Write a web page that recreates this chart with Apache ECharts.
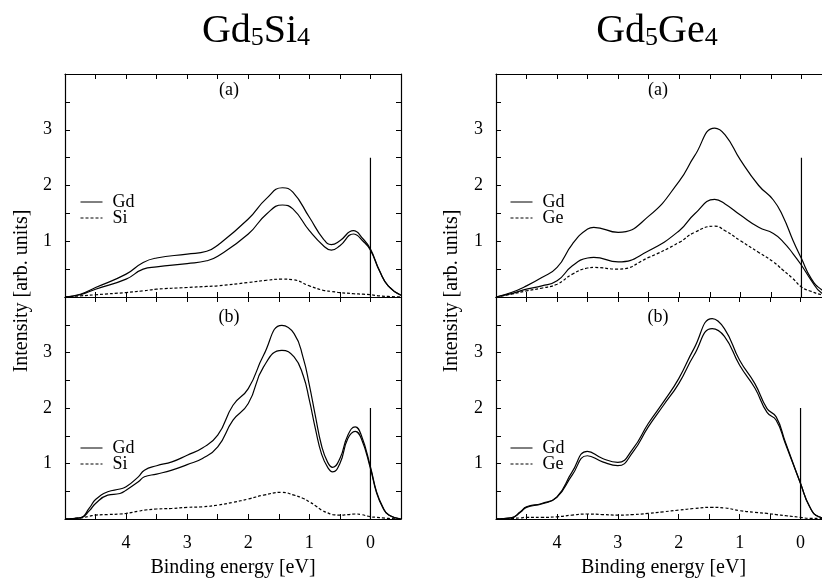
<!DOCTYPE html>
<html lang="en">
<head>
    <meta charset="UTF-8">
    <title>Gd5Si4 / Gd5Ge4</title>
    <script src="https://cdn.jsdelivr.net/npm/echarts@6/dist/echarts.min.js"></script>
    <style>
        html, body { margin: 0; padding: 0; background: #fff; overflow: hidden; }
        /* the right panel runs past the window edge, as in the original figure */
        #chart { width: 834px; height: 579px; }
    </style>
</head>
<body>
    <div id="chart"></div>
    <script>
        // Gd5Si4 (a)
        var siA_x   = [5, 4.75, 4.5, 4.0, 3.72, 3.5, 3.0, 2.68, 2.5, 2.0, 1.7, 1.44, 1.27, 1.0, 0.77, 0.64, 0.5, 0.28, 0.12, 0, -0.15, -0.29, -0.5];
        var siA_gd1 = [0, 0.05, 0.17, 0.41, 0.62, 0.70, 0.77, 0.82, 0.93, 1.40, 1.77, 1.96, 1.88, 1.43, 1.04, 0.94, 1.01, 1.19, 1.04, 0.86, 0.47, 0.20, 0.03];
        var siA_gd2 = [0, 0.04, 0.14, 0.32, 0.50, 0.54, 0.60, 0.65, 0.73, 1.13, 1.49, 1.65, 1.58, 1.19, 0.92, 0.84, 0.92, 1.13, 1.00, 0.84, 0.46, 0.20, 0.03];
        var siA_si  = [0, 0.02, 0.04, 0.08, 0.11, 0.14, 0.17, 0.19, 0.20, 0.26, 0.30, 0.32, 0.31, 0.20, 0.12, 0.10, 0.08, 0.06, 0.05, 0.04, 0.02, 0.01, 0];

        // Gd5Si4 (b)
        var siB_x   = [5, 4.75, 4.6, 4.5, 4.3, 4.1, 4.0, 3.8, 3.7, 3.5, 3.25, 3.0, 2.75, 2.5, 2.25, 2.0, 1.75, 1.45, 1.25, 1.1, 1.0, 0.9, 0.8, 0.7, 0.62, 0.5, 0.37, 0.25, 0.15, 0, -0.1, -0.2, -0.3, -0.5];
        var siB_gd1 = [0, 0.02, 0.20, 0.35, 0.49, 0.54, 0.58, 0.76, 0.88, 0.96, 1.03, 1.15, 1.28, 1.51, 2.05, 2.35, 2.95, 3.49, 3.34, 2.90, 2.41, 1.85, 1.32, 1.02, 0.93, 1.09, 1.51, 1.66, 1.51, 0.94, 0.49, 0.22, 0.07, 0];
        var siB_gd2 = [0, 0.02, 0.15, 0.28, 0.43, 0.46, 0.52, 0.67, 0.76, 0.81, 0.88, 0.98, 1.09, 1.30, 1.78, 2.08, 2.74, 3.04, 2.92, 2.58, 2.14, 1.62, 1.17, 0.93, 0.85, 1.00, 1.45, 1.58, 1.45, 0.91, 0.47, 0.21, 0.07, 0];
        var siB_si  = [0, 0.02, 0.05, 0.07, 0.08, 0.09, 0.10, 0.14, 0.16, 0.18, 0.19, 0.21, 0.22, 0.25, 0.30, 0.36, 0.43, 0.48, 0.43, 0.37, 0.31, 0.24, 0.16, 0.11, 0.08, 0.07, 0.08, 0.09, 0.08, 0.04, 0.03, 0.02, 0.01, 0];

        // Gd5Ge4 (a)
        var geA_x   = [5, 4.75, 4.5, 4.25, 4.0, 3.75, 3.5, 3.4, 3.0, 2.5, 2.0, 1.75, 1.42, 1.25, 1.0, 0.7, 0.46, 0.3, 0.14, 0, -0.16, -0.33, -0.5];
        var geA_gd1 = [0, 0.08, 0.20, 0.35, 0.53, 0.95, 1.22, 1.25, 1.16, 1.45, 2.08, 2.53, 3.03, 2.91, 2.46, 2.00, 1.74, 1.44, 1.02, 0.69, 0.33, 0.13, 0.05];
        var geA_gd2 = [0, 0.06, 0.14, 0.20, 0.29, 0.56, 0.70, 0.71, 0.63, 0.83, 1.19, 1.49, 1.75, 1.67, 1.47, 1.25, 1.14, 0.99, 0.78, 0.57, 0.30, 0.07, 0.02];
        var geA_ge  = [0, 0.05, 0.11, 0.16, 0.23, 0.41, 0.52, 0.53, 0.50, 0.71, 0.98, 1.16, 1.27, 1.19, 1.01, 0.80, 0.63, 0.48, 0.33, 0.18, 0.10, 0.04, 0.02];

        // Gd5Ge4 (b)
        var geB_x   = [5, 4.75, 4.6, 4.5, 4.25, 4.0, 3.75, 3.5, 3.25, 3.0, 2.75, 2.5, 2.25, 2.0, 1.75, 1.45, 1.25, 1.0, 0.75, 0.55, 0.4, 0.25, 0, -0.15, -0.3, -0.5];
        var geB_gd1 = [0, 0.02, 0.13, 0.22, 0.28, 0.40, 0.85, 1.22, 1.09, 1.02, 1.27, 1.72, 2.11, 2.53, 3.07, 3.61, 3.43, 2.86, 2.44, 1.99, 1.84, 1.39, 0.64, 0.22, 0.04, 0];
        var geB_gd2 = [0, 0.02, 0.12, 0.21, 0.27, 0.39, 0.79, 1.14, 1.03, 0.96, 1.21, 1.66, 2.05, 2.44, 2.95, 3.43, 3.29, 2.77, 2.36, 1.92, 1.78, 1.36, 0.64, 0.22, 0.04, 0];
        var geB_ge  = [0, 0.01, 0.02, 0.03, 0.03, 0.04, 0.07, 0.09, 0.08, 0.07, 0.08, 0.10, 0.13, 0.16, 0.19, 0.21, 0.20, 0.15, 0.12, 0.10, 0.08, 0.06, 0.03, 0.01, 0.01, 0];

        // height of the vertical line at E_F, one per panel
        var efHeight = [2.5, 2.0, 2.5, 2.0];
        var panelTags = ['(a)', '(b)', '(a)', '(b)'];
        var xTickLabels = [0, 1, 2, 3, 4];
        var yTickLabels = [1, 2, 3];

        var FONT = '"Liberation Serif", "DejaVu Serif", serif';

        var chart = echarts.init(document.getElementById('chart'));

        // grid boxes: left-top, left-bottom, right-top, right-bottom
        var grids = [
            { left: 65, top: 74, width: 336, height: 223 },
            { left: 65, top: 297, width: 336, height: 222 },
            { left: 496, top: 74, width: 336, height: 223 },
            { left: 496, top: 297, width: 336, height: 222 }
        ];

        var xAxes = [], yAxes = [];
        for (var g = 0; g < 8; g++) {
            var gi = g % 4;
            var mirror = g >= 4;
            var bottomPanel = (gi === 1 || gi === 3) && !mirror;
            xAxes.push({
                type: 'value', gridIndex: gi, inverse: true,
                min: -0.5, max: 5, interval: 0.5,
                position: mirror ? 'top' : 'bottom',
                axisLine: { show: true, onZero: false, lineStyle: { color: '#000', width: 1.2 } },
                axisTick: { show: true, inside: true, length: 5, lineStyle: { color: '#000', width: 1 } },
                splitLine: { show: false },
                axisLabel: {
                    show: bottomPanel, margin: 15, color: '#000', fontFamily: FONT, fontSize: 18,
                    formatter: function (v) { return xTickLabels.indexOf(v) >= 0 ? String(v) : ''; }
                },
                name: bottomPanel ? 'Binding energy [eV]' : '',
                nameLocation: 'middle', nameGap: 39,
                nameTextStyle: { color: '#000', fontFamily: FONT, fontSize: 20 }
            });
            yAxes.push({
                type: 'value', gridIndex: gi, min: 0, max: 4, interval: 0.5,
                position: mirror ? 'right' : 'left',
                axisLine: { show: true, onZero: false, lineStyle: { color: '#000', width: 1.2 } },
                axisTick: { show: true, inside: true, length: 5, lineStyle: { color: '#000', width: 1 } },
                splitLine: { show: false },
                axisLabel: {
                    show: !mirror, margin: 13, color: '#000', fontFamily: FONT, fontSize: 18,
                    formatter: function (v) { return yTickLabels.indexOf(v) >= 0 ? String(v) : ''; }
                }
            });
        }

        function pairs(xs, ys) {
            return xs.map(function (x, i) { return [x, ys[i]]; });
        }

        function curve(name, xs, ys, idx, dashed) {
            return {
                name: name, type: 'line', xAxisIndex: idx, yAxisIndex: idx,
                data: pairs(xs, ys), smooth: 0.5, showSymbol: false, symbol: 'none',
                silent: true,
                lineStyle: { color: '#000', width: 1.2, type: dashed ? [3, 2] : 'solid' },
                itemStyle: { color: '#000' }
            };
        }

        var series = [
            curve('Gd', siA_x, siA_gd1, 0), curve('Gd', siA_x, siA_gd2, 0), curve('Si', siA_x, siA_si, 0, true),
            curve('Gd', siB_x, siB_gd1, 1), curve('Gd', siB_x, siB_gd2, 1), curve('Si', siB_x, siB_si, 1, true),
            curve('Gd', geA_x, geA_gd1, 2), curve('Gd', geA_x, geA_gd2, 2), curve('Ge', geA_x, geA_ge, 2, true),
            curve('Gd', geB_x, geB_gd1, 3), curve('Gd', geB_x, geB_gd2, 3), curve('Ge', geB_x, geB_ge, 3, true)
        ];
        // E_F marker line
        efHeight.forEach(function (h, i) {
            series.push({
                name: 'EF', type: 'line', xAxisIndex: i, yAxisIndex: i,
                data: [[0, 0], [0, h]], showSymbol: false, symbol: 'none', silent: true,
                lineStyle: { color: '#000', width: 1.2 }
            });
        });

        function legendAt(left, top, second) {
            return {
                orient: 'vertical', left: left, top: top,
                data: ['Gd', second], itemWidth: 22, itemHeight: 15, itemGap: -2,
                selectedMode: false,
                itemStyle: { opacity: 0 },
                lineStyle: { opacity: 1, width: 1 },
                textStyle: { color: '#000', fontFamily: FONT, fontSize: 18, lineHeight: 15, padding: [0, 0, 0, 5] }
            };
        }

        var titleRich = {
            m: { fontFamily: FONT, fontSize: 40, fontWeight: 'normal', lineHeight: 44, color: '#000', verticalAlign: 'bottom' },
            s: { fontFamily: FONT, fontSize: 26, fontWeight: 'normal', lineHeight: 24, color: '#000', verticalAlign: 'bottom' }
        };

        var graphics = [];
        var tagPos = [[229, 90], [229, 317], [658, 90], [658, 317]];
        panelTags.forEach(function (t, i) {
            graphics.push({
                type: 'text', x: tagPos[i][0], y: tagPos[i][1],
                style: { text: t, font: '18px ' + FONT, fill: '#000', align: 'center', verticalAlign: 'middle' }
            });
        });
        [[22, 291], [452, 291]].forEach(function (p) {
            graphics.push({
                type: 'text', x: p[0], y: p[1], rotation: Math.PI / 2,
                style: { text: 'Intensity [arb. units]', font: '20px ' + FONT, fill: '#000', align: 'center', verticalAlign: 'middle' }
            });
        });

        var option = {
            animation: false,
            backgroundColor: '#fff',
            title: [
                { text: '{m|Gd}{s|5}{m|Si}{s|4}', left: 251, top: 2, textAlign: 'center', textStyle: { fontWeight: 'normal', rich: titleRich } },
                { text: '{m|Gd}{s|5}{m|Ge}{s|4}', left: 652, top: 2, textAlign: 'center', textStyle: { fontWeight: 'normal', rich: titleRich } }
            ],
            legend: [
                legendAt(75, 188, 'Si'),
                legendAt(75, 434, 'Si'),
                legendAt(505, 188, 'Ge'),
                legendAt(505, 434, 'Ge')
            ],
            grid: grids,
            xAxis: xAxes,
            yAxis: yAxes,
            series: series,
            graphic: graphics
        };
        chart.setOption(option);
    </script>
</body>
</html>
